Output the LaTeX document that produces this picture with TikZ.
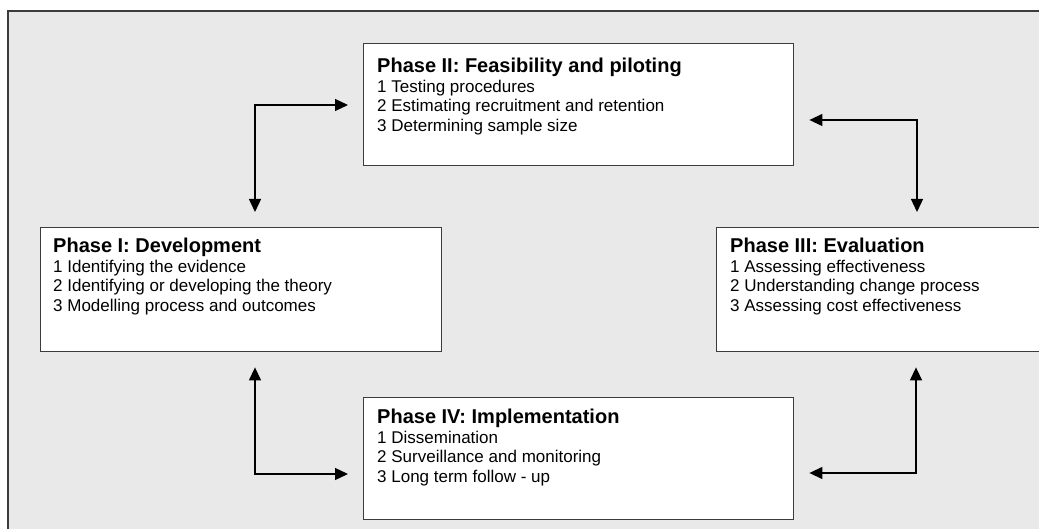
\documentclass[tikz,border=0pt]{standalone}
\usepackage{fontspec}
\setmainfont{Liberation Sans}
\usetikzlibrary{arrows.meta}
\definecolor{panelgray}{HTML}{E9E9E9}
\definecolor{edgegray}{HTML}{3C3C3C}
\begin{document}
\begin{tikzpicture}[x=1pt, y=-1pt,
  phase/.style={draw=edgegray, line width=1.4pt, fill=white, inner sep=0pt, anchor=north west},
  phasetxt/.style={anchor=north west, inner sep=0pt, align=left, font=\fontsize{17}{19.5}\selectfont},
  link/.style={{Triangle[length=13pt,width=12pt]}-{Triangle[length=13pt,width=12pt]}, line width=1.3pt, shorten <=15pt, shorten >=15pt}]
\useasboundingbox (0,0) rectangle (1039,529);
% grey panel, framed on top and left only
\fill[panelgray] (8,11) rectangle (1039,529);
\draw[line width=2pt, edgegray] (8,529) -- (8,11) -- (1039,11);
% the four phases
\node[phase, minimum width=430pt, minimum height=122pt] (p2) at (363,43) {};
\node[phase, minimum width=401pt, minimum height=124pt] (p1) at (40,227) {};
\node[phase, minimum width=325pt, minimum height=124pt] (p3) at (716,227) {};
\node[phase, minimum width=430pt, minimum height=122pt] (p4) at (363,397) {};
\node[phasetxt] (p2txt) at (377,58) {{\bfseries\fontsize{20}{20}\selectfont Phase II: Feasibility and piloting}\\1 Testing procedures\\2 Estimating recruitment and retention\\3 Determining sample size};
\node[phasetxt] (p1txt) at (53,238) {{\bfseries\fontsize{20}{20}\selectfont Phase I: Development}\\1 Identifying the evidence\\2 Identifying or developing the theory\\3 Modelling process and outcomes};
\node[phasetxt] (p3txt) at (730,238) {{\bfseries\fontsize{20}{20}\selectfont Phase III: Evaluation}\\1 Assessing effectiveness\\2 Understanding change process\\3 Assessing cost effectiveness};
\node[phasetxt] (p4txt) at (377,409) {{\bfseries\fontsize{20}{20}\selectfont Phase IV: Implementation}\\1 Dissemination\\2 Surveillance and monitoring\\3 Long term follow - up};
% elbow connectors
\coordinate (tl) at (255,105);
\coordinate (tr) at (917,120);
\coordinate (bl) at (255,474);
\coordinate (br) at (916,473);
\draw[link] (p1.north -| tl) |- (p2.west |- tl);
\draw[link] (p3.north -| tr) |- (p2.east |- tr);
\draw[link] (p1.south -| bl) |- (p4.west |- bl);
\draw[link] (p3.south -| br) |- (p4.east |- br);
\end{tikzpicture}
\end{document}
